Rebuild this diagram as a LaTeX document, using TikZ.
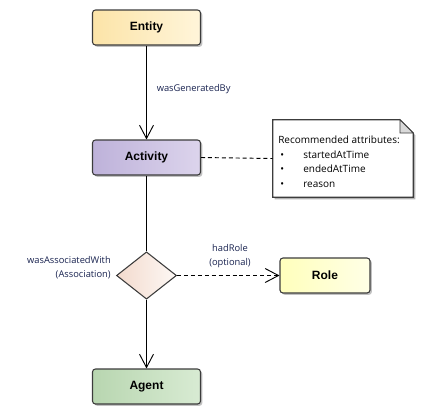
\documentclass[tikz,border=0pt]{standalone}
\usepackage{fontspec}
\setmainfont{Open Sans}
\newfontfamily\titlefont{Liberation Sans}
\usetikzlibrary{arrows.meta,shapes.geometric,shadows}
\definecolor{lblcol}{RGB}{25,35,80}
\definecolor{edgecol}{RGB}{60,60,60}
\tikzset{
  lbl/.style={font=\fontsize{7}{8.4}\selectfont, text=lblcol, inner sep=0pt},
  elem/.style={draw=edgecol, line width=0.8pt, rounded corners=2.2pt, minimum width=81pt, minimum height=26.25pt,
    shading=axis, shading angle=90, font=\titlefont\bfseries\fontsize{9}{10}\selectfont, text=black,
    drop shadow={shadow xshift=1.4pt, shadow yshift=-1.4pt, fill=black!30, opacity=0.8}},
  conn/.style={draw=black, line width=0.7pt},
  openarrow/.style={-{Straight Barb[length=10pt,width=10.5pt,line width=0.7pt]}},
  dashedline/.style={dash pattern=on 3pt off 2.2pt},
}
\begin{document}
\begin{tikzpicture}[x=0.75pt,y=-0.75pt]
\useasboundingbox (0,0) rectangle (422,415);
% nodes
\node[elem, left color={rgb,255:red,252;green,228;blue,168}, right color={rgb,255:red,255;green,245;blue,218}] (entity) at (146.5,27.5) {Entity};
\node[elem, left color={rgb,255:red,190;green,178;blue,218}, right color={rgb,255:red,220;green,212;blue,236}] (activity) at (146.5,157.5) {Activity};
\node[elem, left color={rgb,255:red,184;green,214;blue,176}, right color={rgb,255:red,216;green,235;blue,211}] (agent) at (146.5,386.5) {Agent};
\node[elem, minimum width=67.5pt, left color={rgb,255:red,255;green,255;blue,188}, right color={rgb,255:red,255;green,255;blue,230}] (role) at (325,275.5) {Role};
\node[diamond, draw=edgecol, line width=0.8pt, inner sep=0pt, minimum width=45pt, minimum height=35.5pt,
  shading=axis, shading angle=90, left color={rgb,255:red,243;green,218;blue,205}, right color={rgb,255:red,253;green,248;blue,245}] (assoc) at (146.5,275.5) {};
% note
\node[minimum width=105pt, minimum height=57.75pt, inner sep=0pt] (note) at (343,158.5) {};
\fill[black!30] ([xshift=1.5pt,yshift=-1.5pt]note.north west) -- ([xshift=-8.5pt,yshift=-1.5pt]note.north east) -- ([xshift=1.5pt,yshift=-11.5pt]note.north east) -- ([xshift=1.5pt,yshift=-1.5pt]note.south east) -- ([xshift=1.5pt,yshift=-1.5pt]note.south west) -- cycle;
\draw[edgecol, line width=0.8pt, fill=white] (note.north west) -- ([xshift=-10pt]note.north east) -- ([yshift=-10pt]note.north east) -- (note.south east) -- (note.south west) -- cycle;
\draw[edgecol, line width=0.6pt, fill=black!15] ([xshift=-10pt]note.north east) -- ([xshift=-10pt,yshift=-10pt]note.north east) -- ([yshift=-10pt]note.north east) -- cycle;
\node[anchor=north west, align=left, inner sep=0pt, font=\fontsize{7.5}{10.9}\selectfont] (notetxt) at (278,136)
 {Recommended attributes:\\
  \hspace*{1.5pt}\makebox[17.25pt][l]{•}startedAtTime\\
  \hspace*{1.5pt}\makebox[17.25pt][l]{•}endedAtTime\\
  \hspace*{1.5pt}\makebox[17.25pt][l]{•}reason};
% connectors
\draw[conn, openarrow] (entity) -- (activity);
\draw[conn] (activity) -- (assoc);
\draw[conn, openarrow] (assoc) -- (agent);
\draw[conn, dashedline, openarrow] (assoc) -- (role);
\draw[conn, dashedline] (activity.east) -- (note.west);
% labels
\node[lbl, anchor=west] (lgen) at (156.5,89) {wasGeneratedBy};
\node[lbl, anchor=east, align=right] (lassoc) at (111,268) {wasAssociatedWith\\[2pt](Association)};
\node[lbl, align=center] (lrole) at (230,256) {hadRole\\[2pt](optional)};
\end{tikzpicture}
\end{document}
